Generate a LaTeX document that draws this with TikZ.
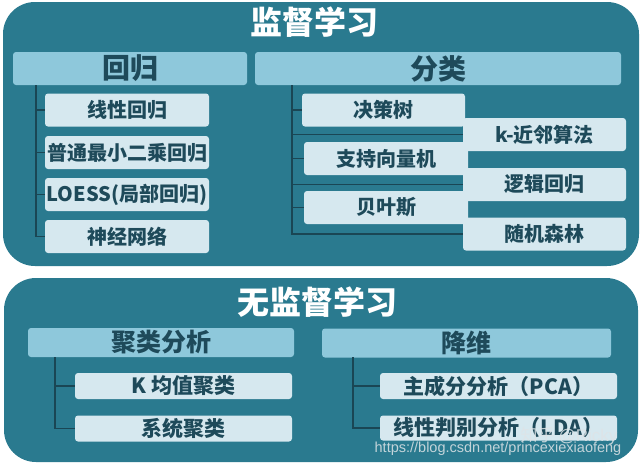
\documentclass[tikz,border=0pt]{standalone}
\usepackage{fontspec}
\setmainfont{Noto Sans CJK SC}[BoldFont={Noto Sans CJK SC Black}]
\newfontfamily\urlfont{Liberation Sans}
\definecolor{panelteal}{RGB}{42,122,143}
\definecolor{headblue}{RGB}{142,200,219}
\definecolor{leafblue}{RGB}{214,232,239}
\definecolor{textdark}{RGB}{30,74,90}
\definecolor{linedark}{RGB}{26,70,84}
\definecolor{wmgray}{RGB}{222,228,231}

\begin{document}
\begin{tikzpicture}[x=1pt, y=-1pt,
    panel/.style={fill=panelteal, rounded corners=32pt},
    title/.style={text=white, font=\fontsize{32}{32}\selectfont\bfseries},
    head/.style={fill=headblue, rounded corners=3pt, text=textdark, inner sep=0pt,
        minimum height=33pt, font=\fontsize{28}{28}\selectfont\bfseries},
    leaf/.style={fill=leafblue, rounded corners=3pt, text=textdark, inner sep=0pt,
        minimum width=164pt, minimum height=33pt, font=\fontsize{20}{20}\selectfont\bfseries},
    branch/.style={draw=linedark, line width=1.5pt},
    wmtext/.style={text=wmgray, text opacity=0.85, inner sep=0pt}]
    \useasboundingbox (0,0) rectangle (642,467);

    % Panels
    \fill[panel] (3,2) rectangle (639,266);
    \fill[panel] (4,278) rectangle (638,462);

    % Supervised learning
    \node[title] (sup) at (314,22) {监督学习};
    \node[head, minimum width=234pt] (reg) at (130,68.5) {回归};
    \node[head, minimum width=366pt] (cls) at (438,68.5) {分类};

    \node[leaf] (lin) at (127,110) {线性回归};
    \node[leaf] (ols) at (127,152.5) {普通最小二乘回归};
    \node[leaf] (loess) at (127,194.5) {LOESS(局部回归)};
    \node[leaf] (nn) at (127,236.5) {神经网络};

    \node[leaf, minimum width=163pt] (dtree) at (383.5,110) {决策树};
    \node[leaf] (svm) at (386,158.5) {支持向量机};
    \node[leaf] (bayes) at (386,207.5) {贝叶斯};
    \node[leaf, minimum width=163pt] (knn) at (544.5,134.5) {k-近邻算法};
    \node[leaf, minimum width=163pt] (logit) at (544.5,184.5) {逻辑回归};
    \node[leaf, minimum width=163pt] (forest) at (544.5,234) {随机森林};

    \coordinate (regtrunk) at (36,85);
    \coordinate (clstrunk) at (292,85);
    \foreach \n in {lin,ols,loess,nn}
        \draw[branch] (regtrunk) |- (\n.west);
    \foreach \n in {dtree,svm,bayes,knn,logit,forest}
        \draw[branch] (clstrunk) |- (\n.west);

    % Unsupervised learning
    \node[title] (unsup) at (317,302) {无监督学习};
    \node[head, minimum width=266pt, minimum height=29pt, font=\fontsize{25}{25}\selectfont\bfseries] (clu) at (161,342.5) {聚类分析};
    \node[head, minimum width=289pt, minimum height=29pt, font=\fontsize{25}{25}\selectfont\bfseries] (dim) at (466.5,343) {降维};

    \node[leaf, minimum width=217pt, minimum height=26pt, font=\fontsize{21}{21}\selectfont\bfseries] (kmeans) at (183.5,386) {K 均值聚类};
    \node[leaf, minimum width=217pt, minimum height=26pt, font=\fontsize{21}{21}\selectfont\bfseries] (hier) at (183.5,428.5) {系统聚类};
    \node[leaf, minimum width=237pt, minimum height=26pt, font=\fontsize{21}{21}\selectfont\bfseries] (pca) at (498.5,386) {主成分分析（PCA）};
    \node[leaf, minimum width=237pt, minimum height=25pt, font=\fontsize{21}{21}\selectfont\bfseries] (lda) at (498.5,428) {线性判别分析（LDA）};

    \coordinate (clutrunk) at (55,357);
    \coordinate (dimtrunk) at (353,357);
    \foreach \n in {kmeans,hier}
        \draw[branch] (clutrunk) |- (\n.west);
    \foreach \n in {pca,lda}
        \draw[branch] (dimtrunk) |- (\n.west);

    % Watermark
    \node[wmtext, font=\fontsize{17}{17}\selectfont] (zhihu) at (569,436) {知乎 {\urlfont @Ricky}};
    \node[wmtext, font=\urlfont\fontsize{14.5}{14.5}\selectfont] (url) at (498,449) {https://blog.csdn.net/princexiexiaofeng};
\end{tikzpicture}
\end{document}
